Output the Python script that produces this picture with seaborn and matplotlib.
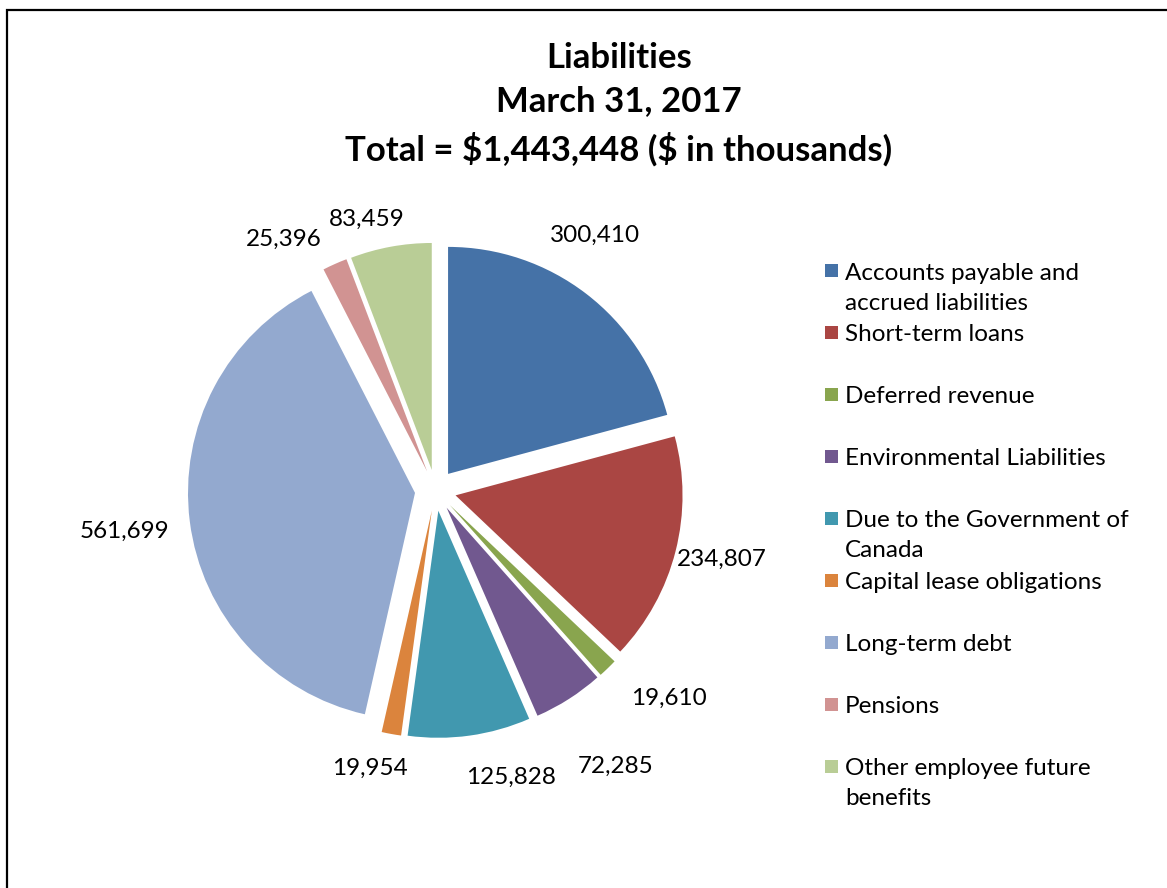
import numpy as np
import matplotlib
matplotlib.use("Agg")
import matplotlib.pyplot as plt
from matplotlib.patches import Rectangle
import seaborn as sns

# Liabilities at March 31, 2017 ($ in thousands)
categories = [
    "Accounts payable and accrued liabilities",
    "Short-term loans",
    "Deferred revenue",
    "Environmental Liabilities",
    "Due to the Government of Canada",
    "Capital lease obligations",
    "Long-term debt",
    "Pensions",
    "Other employee future benefits",
]
values = [300410, 234807, 19610, 72285, 125828, 19954, 561699, 25396, 83459]
legend_labels = [
    "Accounts payable and\naccrued liabilities",
    "Short-term loans",
    "Deferred revenue",
    "Environmental Liabilities",
    "Due to the Government of\nCanada",
    "Capital lease obligations",
    "Long-term debt",
    "Pensions",
    "Other employee future\nbenefits",
]
title_lines = [
    "Liabilities",
    "March 31, 2017",
    f"Total = ${sum(values):,} ($ in thousands)",
]

colors = ["#4572A7", "#AA4643", "#89A54E", "#71588F", "#4198AF",
          "#DB843D", "#93A9CF", "#D19392", "#B9CD96"]

# value-label placement: distance from centre (in pie radii) and a small
# clockwise angular nudge (degrees) from the wedge's mid-angle
label_radius = [1.33, 1.297, 1.374, 1.445, 1.302, 1.252, 1.383, 1.296, 1.237]
label_nudge = [-5.6, -0.9, -4.5, -0.6, -6.9, 3.0, 0.0, -7.0, -3.7]

sns.set_theme(style="white")
plt.rcParams["font.family"] = ["Lato", "DejaVu Sans"]

W, H = 1167, 888
fig = plt.figure(figsize=(W / 100, H / 100), dpi=100)
fig.patch.set_facecolor("white")

# chart-area frame (right and bottom edges run past the canvas)
fig.patches.append(Rectangle((7 / W, -0.05), 1.2, 1 - 10 / H + 0.05,
                             transform=fig.transFigure, fill=False,
                             edgecolor="black", linewidth=1.6))

# pie axes: centre and radius in pixels from the top-left corner
cx, cy, R = 435.5, 490.3, 227.0
lim = 1.6
half = lim * R
ax = fig.add_axes([(cx - half) / W, (H - cy - half) / H, 2 * half / W, 2 * half / H])
wedges, _ = ax.pie(values, colors=colors, startangle=90, counterclock=False,
                   explode=[0.091] * len(values), radius=1.0,
                   wedgeprops=dict(linewidth=0))
ax.set_xlim(-lim, lim)
ax.set_ylim(-lim, lim)
ax.set_aspect("equal")
ax.axis("off")

label_fs = 17.5
for w, v, r, nudge in zip(wedges, values, label_radius, label_nudge):
    mid = np.deg2rad((w.theta1 + w.theta2) / 2 - nudge)
    ax.text(r * np.cos(mid), r * np.sin(mid) - 0.006, f"{v:,}", ha="center",
            va="center", fontsize=label_fs, color="black")

# title
for y_px, line in zip([58, 101, 149], title_lines):
    fig.text(619 / W, 1 - y_px / H, line, ha="center", va="center",
             fontsize=25, fontweight="bold", color="black", parse_math=False)

# legend
legend_top, legend_step, line_step = 271, 61.875, 30
for i, (lab, col) in enumerate(zip(legend_labels, colors)):
    y0 = legend_top + i * legend_step
    fig.patches.append(Rectangle((825 / W, 1 - (y0 + 6.5) / H), 13 / W, 13 / H,
                                 transform=fig.transFigure, facecolor=col,
                                 edgecolor="none"))
    for k, part in enumerate(lab.split("\n")):
        fig.text(845 / W, 1 - (y0 + 2 + k * line_step) / H, part, ha="left",
                 va="center", fontsize=label_fs, color="black")

fig.savefig("out.png", dpi=100, facecolor="white")
